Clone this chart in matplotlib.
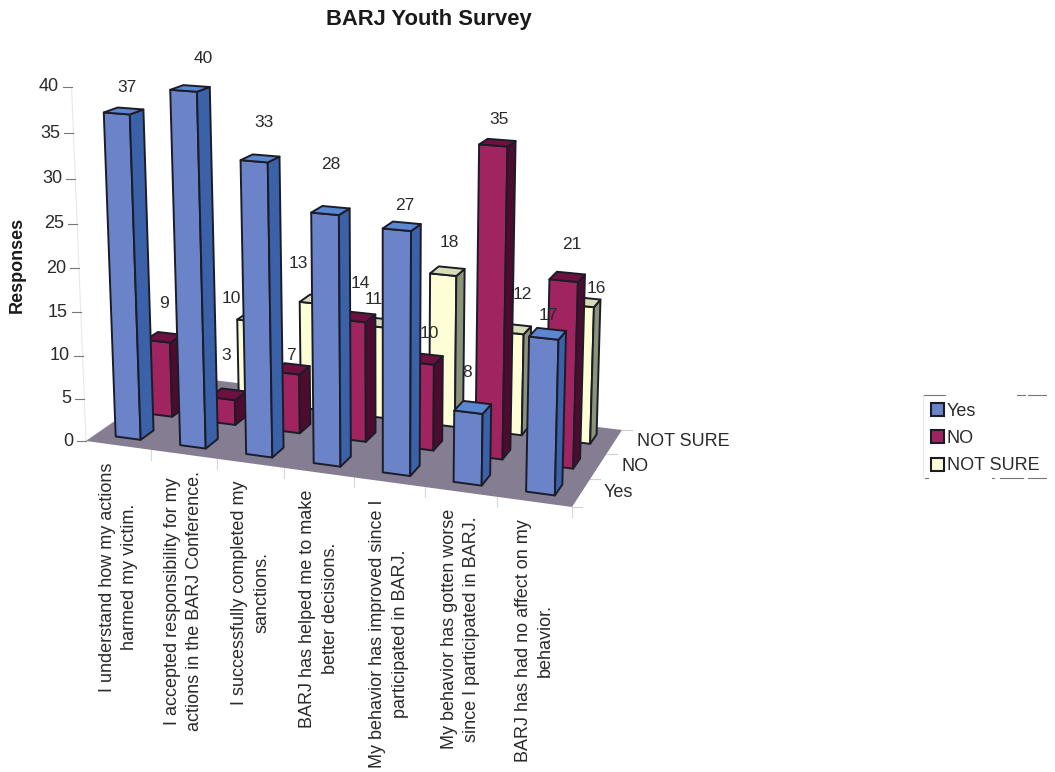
import matplotlib
matplotlib.use('Agg')
import matplotlib.pyplot as plt
from matplotlib.patches import Polygon, Patch
import numpy as np

plt.rcParams['font.family'] = ['Liberation Sans', 'DejaVu Sans']

title = 'BARJ Youth Survey'
categories = [
    'I understand how my actions\nharmed my victim.',
    'I accepted responsibility for my\nactions in the BARJ Conference.',
    'I successfully completed my\nsanctions.',
    'BARJ has helped me to make\nbetter decisions.',
    'My behavior has improved since I\nparticipated in BARJ.',
    'My behavior has gotten worse\nsince I participated in BARJ.',
    'BARJ has had no affect on my\nbehavior.',
]
series_names = ['Yes', 'NO', 'NOT SURE']
yes_values = [37, 40, 33, 28, 27, 8, 17]
no_values = [9, 3, 7, 14, 10, 35, 21]
# first NOT SURE bar is hidden behind the others and has no label
notsure_values = [None, 10, 13, 11, 18, 12, 16]
y_ticks = [0, 5, 10, 15, 20, 25, 30, 35, 40]

# label nudges in pixels, the scan has them scattered
yes_nudge = [(10, -26), (20, -32), (10, -39), (6, -49), (8, -24), (-1, -40), (5, -23)]
no_nudge = [(6, -38), (4, -43), (5, -18), (8, -37), (9, -30), (6, -26), (8, -36)]
notsure_nudge = [(0, 0), (-18, -22), (-14, -40), (-3, -27), (6, -32), (12, -38), (16, -17)]

colors = {
    'Yes': ('#6b84c9', '#3b62a8', '#5b86d0'),
    'NO': ('#a0245f', '#4d0b30', '#6e1040'),
    'NOT SURE': ('#fdfdd6', '#8b937a', '#d9ddb6'),
}
edge = '#1c1c28'
text_col = '#2a2a2a'

n_cat = len(categories)
n_ser = len(series_names)
bar_w, bar_d = 0.39, 0.40
gap_w, gap_d = 0.305, 0.30

# camera: floor corners in figure pixels + vertical perspective
src = [(0, 0), (n_cat, 0), (n_cat, n_ser), (0, n_ser)]
dst = [(86, 441), (572, 507), (622, 430), (180, 376)]
A, b = [], []
for (u, v), (px, py) in zip(src, dst):
    A.append([u, v, 1, 0, 0, 0, -u * px, -v * px])
    A.append([0, 0, 0, u, v, 1, -u * py, -v * py])
    b += [px, py]
h = np.linalg.solve(np.array(A, float), np.array(b, float))
cam_r = -0.001149
cam_p = 386 * cam_r
cam_q = 7790 * cam_r


def project(u, v, z=0):
    w = h[6] * u + h[7] * v + 1 + cam_r * z
    return ((h[0] * u + h[1] * v + h[2] + cam_p * z) / w,
            (h[3] * u + h[4] * v + h[5] + cam_q * z) / w)


def draw_bar(ax, i, s, val, cols, order):
    u0, u1 = i + gap_w, i + gap_w + bar_w
    v0, v1 = s + gap_d, s + gap_d + bar_d
    front = [project(u0, v0, 0), project(u1, v0, 0), project(u1, v0, val), project(u0, v0, val)]
    side = [project(u1, v0, 0), project(u1, v1, 0), project(u1, v1, val), project(u1, v0, val)]
    top = [project(u0, v0, val), project(u1, v0, val), project(u1, v1, val), project(u0, v1, val)]
    for pts, c in ((front, cols[0]), (side, cols[1]), (top, cols[2])):
        ax.add_patch(Polygon(pts, closed=True, fc=c, ec=edge, lw=1.4, joinstyle='round', zorder=order))


fig = plt.figure(figsize=(10.55, 7.72), dpi=100)
ax = fig.add_axes([0, 0, 1, 1])
ax.set_xlim(0, 1055)
ax.set_ylim(772, 0)
ax.axis('off')

# floor
ax.add_patch(Polygon([project(u, v) for u, v in src], closed=True, fc='#857d92', ec='none', zorder=1))

# value axis
for t in y_ticks:
    x, y = project(0, 0, t)
    ax.plot([x - 9, x], [y, y], color='#777777', lw=0.8, zorder=2)
    ax.text(x - 13, y, str(t), ha='right', va='center', fontsize=13, color=text_col)
ax.plot(*zip(project(0, 0, 0), project(0, 0, 40)), color='#e8e8e8', lw=0.8, zorder=0)
ax.plot(*zip(project(0, 0, 0), project(0, n_ser, 0)), color='#e8e8e8', lw=0.8, zorder=0)

# category ticks and labels
for i, cat in enumerate(categories):
    x, y = project(i + 1, 0)
    ax.plot([x, x], [y, y + 10], color='#d8d8d8', lw=0.8, zorder=0)
    x, y = project(i + 0.5, 0)
    ax.text(x, y + 17, cat, rotation=90, ha='center', va='top', multialignment='center',
            fontsize=13, color=text_col, linespacing=1.4)

# depth ticks and labels
for s in range(n_ser + 1):
    x, y = project(n_cat, s)
    ax.plot([x, x + 10], [y, y], color='#d0d0d0', lw=0.8, zorder=0)
for s, name in enumerate(series_names):
    x, y = project(n_cat, s + 0.5)
    ax.text(x + 23, y, name, ha='left', va='center', fontsize=13, color=text_col)

# bars, back series first so the labels get hidden the same way
all_values = [yes_values, no_values, notsure_values]
all_nudges = [yes_nudge, no_nudge, notsure_nudge]
for s in range(n_ser - 1, -1, -1):
    order = 10 + (n_ser - s) * 2
    cols = colors[series_names[s]]
    for i, val in enumerate(all_values[s]):
        if val is None:
            continue
        draw_bar(ax, i, s, val, cols, order)
        x, y = project(i + gap_w + bar_w / 2, s + gap_d, val)
        dx, dy = all_nudges[s][i]
        ax.text(x + dx, y + dy, str(val), ha='center', va='center', fontsize=12.5,
                color=text_col, zorder=order + 1)

ax.text(428.5, 19, title, ha='center', va='center', fontsize=15.8, fontweight='bold', color='#1a1a1a')
ax.text(17, 265, 'Responses', rotation=90, ha='center', va='center', fontsize=13,
        fontweight='bold', color='#1a1a1a')

handles = [Patch(fc=colors[n][0], ec=edge, lw=1.5, label=n) for n in series_names]
ax.legend(handles=handles, loc='upper left', bbox_to_anchor=(929 / 1055, 1 - 401 / 772),
          frameon=False, fontsize=13, handlelength=0.72, handleheight=0.72,
          handletextpad=0.15, labelspacing=0.57, borderpad=0.1, borderaxespad=0,
          labelcolor=text_col)
# what survived of the legend frame in the scan
for x0, x1 in [(923, 945), (1017, 1025), (1028, 1046)]:
    ax.plot([x0, x1], [395, 395], color='#777777', lw=0.8)
for x0, x1 in [(925, 928), (992, 994), (1000, 1023), (1028, 1046)]:
    ax.plot([x0, x1], [478, 478], color='#777777', lw=0.8)
ax.plot([923, 923], [395, 478], color='#e6e6e6', lw=0.8)

fig.savefig('out.png', dpi=100)
